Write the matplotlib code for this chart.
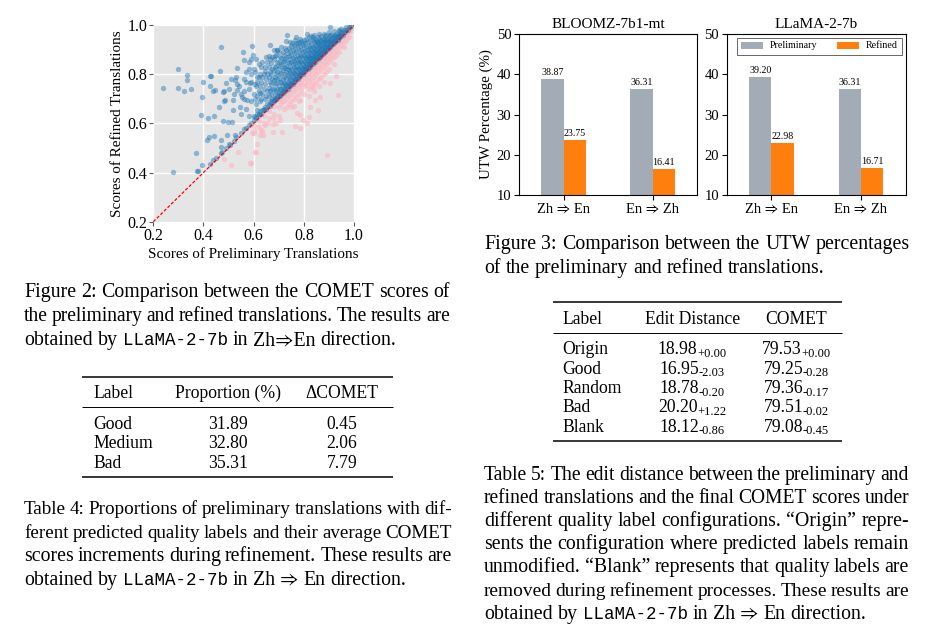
import matplotlib
matplotlib.use('Agg')
import matplotlib.pyplot as plt
import numpy as np

SERIF = ['Liberation Serif', 'STIXGeneral', 'DejaVu Serif']
MONO = ['Liberation Mono']
plt.rcParams['font.family'] = SERIF

# ---------------- data ----------------
directions = ['Zh ⇒ En', 'En ⇒ Zh']
models = ['BLOOMZ-7b1-mt', 'LLaMA-2-7b']
bloomz_prelim = [38.87, 36.31]
bloomz_refined = [23.75, 16.41]
llama_prelim = [39.20, 36.31]
llama_refined = [22.98, 16.71]

t4_header = ['Label', 'Proportion (%)', 'ΔCOMET']
t4_labels = ['Good', 'Medium', 'Bad']
t4_prop = ['31.89', '32.80', '35.31']
t4_dcomet = ['0.45', '2.06', '7.79']

t5_header = ['Label', 'Edit Distance', 'COMET']
t5_labels = ['Origin', 'Good', 'Random', 'Bad', 'Blank']
t5_edit = ['18.98', '16.95', '18.78', '20.20', '18.12']
t5_edit_delta = ['+0.00', '-2.03', '-0.20', '+1.22', '-0.86']
t5_comet = ['79.53', '79.25', '79.36', '79.51', '79.08']
t5_comet_delta = ['+0.00', '-0.28', '-0.17', '-0.02', '-0.45']

# scatter: (preliminary score, refined score)
blue_pts = [
    (0.237, 0.742), (0.297, 0.820), (0.297, 0.742), (0.333, 0.797), (0.336, 0.776), (0.324, 0.732), (0.349, 0.738),
    (0.280, 0.401), (0.370, 0.478), (0.375, 0.407), (0.393, 0.431), (0.377, 0.408), (0.399, 0.770), (0.393, 0.708),
    (0.389, 0.634), (0.419, 0.620), (0.426, 0.793), (0.470, 0.912), (0.446, 0.736), (0.413, 0.532), (0.421, 0.546),
    (0.442, 0.548), (0.466, 0.813), (0.490, 0.765), (0.483, 0.733), (0.463, 0.665), (0.483, 0.692), (0.479, 0.609),
    (0.499, 0.607), (0.439, 0.451), (0.426, 0.435), (0.559, 0.892), (0.592, 0.916), (0.599, 0.878), (0.562, 0.858),
    (0.532, 0.824), (0.526, 0.776), (0.532, 0.736), (0.516, 0.695), (0.519, 0.654), (0.512, 0.607), (0.535, 0.762),
    (0.545, 0.668), (0.552, 0.708), (0.572, 0.695), (0.585, 0.763), (0.612, 0.790), (0.625, 0.722), (0.612, 0.654),
    (0.645, 0.814), (0.665, 0.919), (0.692, 0.898), (0.732, 0.959), (0.751, 0.925), (0.778, 0.925), (0.798, 0.925),
    (0.811, 0.963), (0.838, 0.953), (0.904, 0.991), (0.942, 0.980), (0.851, 0.932), (0.469, 0.532), (0.469, 0.505),
    (0.473, 0.485), (0.506, 0.512), (0.495, 0.553), (0.525, 0.553), (0.440, 0.630), (0.429, 0.794), (0.426, 0.752),
    (0.439, 0.732), (0.479, 0.729), (0.485, 0.697), (0.500, 0.740), (0.510, 0.780), (0.520, 0.720), (0.530, 0.790),
    (0.540, 0.750), (0.550, 0.640), (0.560, 0.730), (0.570, 0.770), (0.580, 0.820), (0.590, 0.860),
    (0.55, 0.72), (0.56, 0.78), (0.57, 0.66), (0.57, 0.81), (0.58, 0.74), (0.58, 0.85), (0.59, 0.69), (0.59, 0.77),
    (0.60, 0.63), (0.60, 0.82), (0.60, 0.72), (0.61, 0.75), (0.61, 0.86), (0.61, 0.68), (0.62, 0.79), (0.62, 0.64),
    (0.62, 0.73), (0.63, 0.83), (0.63, 0.70), (0.63, 0.77), (0.64, 0.66), (0.64, 0.80), (0.64, 0.74), (0.65, 0.87),
    (0.65, 0.71), (0.65, 0.78), (0.58, 0.63), (0.56, 0.70), (0.59, 0.80), (0.62, 0.84),
    (0.66, 0.675), (0.66, 0.71), (0.66, 0.745), (0.66, 0.79), (0.66, 0.83), (0.66, 0.875),
    (0.67, 0.685), (0.67, 0.72), (0.67, 0.76), (0.67, 0.80), (0.67, 0.845),
    (0.68, 0.69), (0.68, 0.705), (0.68, 0.74), (0.68, 0.775), (0.68, 0.815), (0.68, 0.86), (0.68, 0.90),
    (0.69, 0.70), (0.69, 0.73), (0.69, 0.765), (0.69, 0.80), (0.69, 0.835), (0.69, 0.88),
    (0.70, 0.71), (0.70, 0.725), (0.70, 0.75), (0.70, 0.785), (0.70, 0.82), (0.70, 0.85), (0.70, 0.89),
    (0.71, 0.72), (0.71, 0.74), (0.71, 0.77), (0.71, 0.805), (0.71, 0.84), (0.71, 0.865), (0.71, 0.91),
    (0.72, 0.73), (0.72, 0.745), (0.72, 0.765), (0.72, 0.79), (0.72, 0.825), (0.72, 0.855), (0.72, 0.88),
    (0.73, 0.74), (0.73, 0.755), (0.73, 0.78), (0.73, 0.81), (0.73, 0.835), (0.73, 0.87), (0.73, 0.90), (0.73, 0.935),
    (0.74, 0.75), (0.74, 0.765), (0.74, 0.79), (0.74, 0.815), (0.74, 0.845), (0.74, 0.875), (0.74, 0.905),
    (0.75, 0.76), (0.75, 0.775), (0.75, 0.80), (0.75, 0.82), (0.75, 0.85), (0.75, 0.88), (0.75, 0.915),
    (0.76, 0.77), (0.76, 0.785), (0.76, 0.805), (0.76, 0.83), (0.76, 0.855), (0.76, 0.885), (0.76, 0.92),
    (0.77, 0.78), (0.77, 0.795), (0.77, 0.815), (0.77, 0.835), (0.77, 0.86), (0.77, 0.89), (0.77, 0.925), (0.77, 0.95),
    (0.78, 0.79), (0.78, 0.80), (0.78, 0.82), (0.78, 0.845), (0.78, 0.865), (0.78, 0.895), (0.78, 0.93),
    (0.79, 0.80), (0.79, 0.81), (0.79, 0.83), (0.79, 0.85), (0.79, 0.875), (0.79, 0.90), (0.79, 0.935),
    (0.80, 0.81), (0.80, 0.82), (0.80, 0.835), (0.80, 0.855), (0.80, 0.88), (0.80, 0.905), (0.80, 0.94),
    (0.81, 0.82), (0.81, 0.83), (0.81, 0.845), (0.81, 0.865), (0.81, 0.885), (0.81, 0.91), (0.81, 0.945),
    (0.82, 0.83), (0.82, 0.84), (0.82, 0.855), (0.82, 0.87), (0.82, 0.89), (0.82, 0.915), (0.82, 0.95),
    (0.83, 0.84), (0.83, 0.85), (0.83, 0.865), (0.83, 0.88), (0.83, 0.90), (0.83, 0.92), (0.83, 0.955),
    (0.84, 0.85), (0.84, 0.86), (0.84, 0.875), (0.84, 0.89), (0.84, 0.905), (0.84, 0.93), (0.84, 0.96),
    (0.85, 0.86), (0.85, 0.87), (0.85, 0.885), (0.85, 0.90), (0.85, 0.915), (0.85, 0.935),
    (0.86, 0.87), (0.86, 0.88), (0.86, 0.895), (0.86, 0.91), (0.86, 0.925), (0.86, 0.945), (0.86, 0.965),
    (0.87, 0.88), (0.87, 0.89), (0.87, 0.905), (0.87, 0.92), (0.87, 0.935), (0.87, 0.955),
    (0.88, 0.89), (0.88, 0.90), (0.88, 0.915), (0.88, 0.93), (0.88, 0.945), (0.88, 0.965),
    (0.89, 0.90), (0.89, 0.91), (0.89, 0.925), (0.89, 0.94), (0.89, 0.96),
    (0.90, 0.91), (0.90, 0.92), (0.90, 0.935), (0.90, 0.95), (0.90, 0.97),
    (0.91, 0.92), (0.91, 0.93), (0.91, 0.945), (0.91, 0.96),
    (0.92, 0.93), (0.92, 0.94), (0.92, 0.955), (0.92, 0.975),
    (0.93, 0.94), (0.93, 0.95), (0.93, 0.965), (0.94, 0.95), (0.94, 0.96), (0.94, 0.975),
    (0.95, 0.96), (0.95, 0.97), (0.95, 0.985), (0.96, 0.97), (0.96, 0.98), (0.97, 0.98), (0.97, 0.99),
    (0.98, 0.99), (0.99, 0.995),
    (0.605, 0.625), (0.605, 0.70), (0.605, 0.76), (0.605, 0.81), (0.615, 0.64), (0.615, 0.71), (0.615, 0.77),
    (0.625, 0.65), (0.625, 0.69), (0.625, 0.75), (0.625, 0.80), (0.635, 0.655), (0.635, 0.72), (0.635, 0.79),
    (0.635, 0.85), (0.645, 0.665), (0.645, 0.70), (0.645, 0.76), (0.645, 0.83), (0.655, 0.68), (0.655, 0.73),
    (0.655, 0.80), (0.655, 0.85), (0.665, 0.69), (0.665, 0.73), (0.665, 0.77), (0.665, 0.81), (0.665, 0.86),
    (0.675, 0.70), (0.675, 0.74), (0.675, 0.78), (0.675, 0.82), (0.675, 0.87), (0.685, 0.70), (0.685, 0.72),
    (0.685, 0.76), (0.685, 0.79), (0.685, 0.83), (0.685, 0.875), (0.695, 0.71), (0.695, 0.74), (0.695, 0.78),
    (0.695, 0.81), (0.695, 0.85), (0.695, 0.90), (0.705, 0.72), (0.705, 0.74), (0.705, 0.77), (0.705, 0.80),
    (0.705, 0.835), (0.705, 0.87), (0.715, 0.73), (0.715, 0.755), (0.715, 0.78), (0.715, 0.815), (0.715, 0.85),
    (0.715, 0.89), (0.725, 0.74), (0.725, 0.76), (0.725, 0.80), (0.725, 0.83), (0.725, 0.86), (0.725, 0.905),
    (0.735, 0.75), (0.735, 0.77), (0.735, 0.795), (0.735, 0.82), (0.735, 0.85), (0.735, 0.885), (0.745, 0.76),
    (0.745, 0.78), (0.745, 0.805), (0.745, 0.83), (0.745, 0.86), (0.745, 0.895), (0.745, 0.93), (0.755, 0.77),
    (0.755, 0.79), (0.755, 0.81), (0.755, 0.84), (0.755, 0.865), (0.755, 0.90), (0.765, 0.78), (0.765, 0.80),
    (0.765, 0.82), (0.765, 0.845), (0.765, 0.87), (0.765, 0.905), (0.765, 0.94), (0.775, 0.79), (0.775, 0.805),
    (0.775, 0.825), (0.775, 0.85), (0.775, 0.875), (0.775, 0.91), (0.785, 0.80), (0.785, 0.81), (0.785, 0.83),
    (0.785, 0.855), (0.785, 0.88), (0.785, 0.915), (0.785, 0.945), (0.795, 0.81), (0.795, 0.82), (0.795, 0.84),
    (0.795, 0.865), (0.795, 0.89), (0.795, 0.92), (0.805, 0.82), (0.805, 0.83), (0.805, 0.85), (0.805, 0.87),
    (0.805, 0.895), (0.805, 0.925), (0.815, 0.83), (0.815, 0.84), (0.815, 0.86), (0.815, 0.875), (0.815, 0.90),
    (0.815, 0.93), (0.825, 0.84), (0.825, 0.85), (0.825, 0.865), (0.825, 0.885), (0.825, 0.905), (0.825, 0.935),
    (0.835, 0.85), (0.835, 0.86), (0.835, 0.87), (0.835, 0.89), (0.835, 0.91), (0.835, 0.94), (0.845, 0.86),
    (0.845, 0.87), (0.845, 0.88), (0.845, 0.895), (0.845, 0.92), (0.845, 0.945), (0.855, 0.87), (0.855, 0.88),
    (0.855, 0.89), (0.855, 0.905), (0.855, 0.925), (0.855, 0.95), (0.865, 0.875), (0.865, 0.885), (0.865, 0.90),
    (0.865, 0.915), (0.865, 0.935), (0.875, 0.885), (0.875, 0.895), (0.875, 0.91), (0.875, 0.925), (0.875, 0.945),
    (0.885, 0.895), (0.885, 0.905), (0.885, 0.92), (0.885, 0.935), (0.885, 0.955), (0.895, 0.905), (0.895, 0.915),
    (0.895, 0.93), (0.895, 0.945), (0.905, 0.915), (0.905, 0.925), (0.905, 0.94), (0.905, 0.96), (0.915, 0.925),
    (0.915, 0.935), (0.915, 0.95), (0.925, 0.935), (0.925, 0.945), (0.925, 0.96), (0.935, 0.945), (0.935, 0.955),
    (0.945, 0.955), (0.945, 0.965),
    (0.45, 0.46), (0.47, 0.48), (0.49, 0.50), (0.50, 0.515), (0.52, 0.53), (0.53, 0.545), (0.55, 0.56),
    (0.56, 0.575), (0.57, 0.58), (0.58, 0.595), (0.59, 0.60), (0.60, 0.615), (0.61, 0.62), (0.62, 0.635),
    (0.63, 0.64), (0.64, 0.655), (0.65, 0.66), (0.665, 0.672), (0.675, 0.683), (0.685, 0.693), (0.695, 0.702),
    (0.705, 0.712), (0.715, 0.722), (0.725, 0.731), (0.735, 0.741), (0.745, 0.751), (0.755, 0.761),
    (0.765, 0.771), (0.775, 0.781), (0.785, 0.791), (0.795, 0.801), (0.805, 0.811), (0.815, 0.821),
    (0.825, 0.831), (0.835, 0.841), (0.845, 0.851), (0.855, 0.861), (0.865, 0.871), (0.875, 0.881),
    (0.885, 0.891), (0.895, 0.901), (0.905, 0.911), (0.915, 0.921), (0.925, 0.931), (0.935, 0.941),
    (0.945, 0.951), (0.955, 0.961), (0.965, 0.971), (0.975, 0.981), (0.985, 0.990),
]
pink_pts = [
    (0.891, 0.471), (0.938, 0.715), (0.928, 0.793), (0.822, 0.627), (0.712, 0.563), (0.678, 0.566),
    (0.765, 0.589), (0.785, 0.580), (0.585, 0.437), (0.605, 0.485), (0.508, 0.429), (0.482, 0.454),
    (0.592, 0.559), (0.632, 0.569), (0.658, 0.600), (0.732, 0.668), (0.751, 0.668), (0.771, 0.641),
    (0.785, 0.695), (0.825, 0.668), (0.845, 0.695), (0.858, 0.654), (0.864, 0.708), (0.904, 0.763),
    (0.838, 0.749), (0.678, 0.620), (0.705, 0.614), (0.785, 0.634), (0.798, 0.614), (0.811, 0.600),
    (0.536, 0.485), (0.608, 0.485), (0.615, 0.516), (0.588, 0.440), (0.625, 0.553), (0.636, 0.553),
    (0.628, 0.573), (0.601, 0.560), (0.645, 0.595), (0.676, 0.597), (0.689, 0.600),
    (0.60, 0.59), (0.60, 0.57), (0.62, 0.61), (0.62, 0.585), (0.64, 0.63), (0.64, 0.60), (0.66, 0.65),
    (0.66, 0.62), (0.68, 0.67), (0.68, 0.64), (0.70, 0.69), (0.70, 0.665), (0.70, 0.63), (0.72, 0.71),
    (0.72, 0.69), (0.72, 0.66), (0.74, 0.73), (0.74, 0.71), (0.74, 0.68), (0.76, 0.75), (0.76, 0.73),
    (0.76, 0.70), (0.76, 0.67), (0.78, 0.77), (0.78, 0.75), (0.78, 0.72), (0.78, 0.69), (0.80, 0.79),
    (0.80, 0.77), (0.80, 0.75), (0.80, 0.72), (0.82, 0.81), (0.82, 0.79), (0.82, 0.77), (0.82, 0.74),
    (0.82, 0.71), (0.84, 0.83), (0.84, 0.81), (0.84, 0.79), (0.84, 0.76), (0.84, 0.73), (0.86, 0.85),
    (0.86, 0.83), (0.86, 0.81), (0.86, 0.78), (0.86, 0.75), (0.88, 0.87), (0.88, 0.85), (0.88, 0.83),
    (0.88, 0.80), (0.88, 0.77), (0.90, 0.89), (0.90, 0.87), (0.90, 0.85), (0.90, 0.82), (0.92, 0.91),
    (0.92, 0.89), (0.92, 0.87), (0.92, 0.84), (0.94, 0.93), (0.94, 0.91), (0.94, 0.89), (0.96, 0.95),
    (0.96, 0.93), (0.96, 0.91), (0.98, 0.97), (0.98, 0.95),
    (0.71, 0.70), (0.71, 0.68), (0.73, 0.72), (0.73, 0.70), (0.75, 0.74), (0.75, 0.72), (0.75, 0.69),
    (0.77, 0.76), (0.77, 0.74), (0.77, 0.71), (0.79, 0.78), (0.79, 0.76), (0.79, 0.735), (0.81, 0.80),
    (0.81, 0.78), (0.81, 0.755), (0.83, 0.82), (0.83, 0.80), (0.83, 0.775), (0.83, 0.75), (0.85, 0.84),
    (0.85, 0.82), (0.85, 0.80), (0.85, 0.77), (0.87, 0.86), (0.87, 0.84), (0.87, 0.82), (0.87, 0.79),
    (0.89, 0.88), (0.89, 0.86), (0.89, 0.84), (0.89, 0.81), (0.91, 0.90), (0.91, 0.88), (0.91, 0.86),
    (0.93, 0.92), (0.93, 0.90), (0.93, 0.88), (0.95, 0.94), (0.95, 0.92), (0.97, 0.96), (0.97, 0.94),
    (0.99, 0.98),
]
blue_x = [p[0] for p in blue_pts]
blue_y = [p[1] for p in blue_pts]
pink_x = [p[0] for p in pink_pts]
pink_y = [p[1] for p in pink_pts]

GRAY = '#a3acb6'
ORANGE = '#ff7f0e'

# ---------------- figure ----------------
W, H = 936, 625
fig = plt.figure(figsize=(W / 100, H / 100), dpi=100)
fig.patch.set_facecolor('white')

ov = fig.add_axes([0, 0, 1, 1])
ov.set_xlim(0, W)
ov.set_ylim(H, 0)
ov.axis('off')

def fr(x0, y0, x1, y1):
    return [x0 / W, 1 - y1 / H, (x1 - x0) / W, (y1 - y0) / H]

# ---- scatter ----
ax = fig.add_axes(fr(153.3, 25, 354, 221.7))
ax.set_facecolor('#e5e5e5')
ax.grid(True, color='white', lw=1.0)
ax.set_axisbelow(True)
for s in ax.spines.values():
    s.set_visible(False)
ax.scatter(pink_x, pink_y, s=15, color='#ffb6c1', alpha=0.6, lw=0, zorder=2)
ax.scatter(blue_x, blue_y, s=15, color='#1f77b4', alpha=0.45, lw=0, zorder=3)
ax.plot([0.2, 1.0], [0.2, 1.0], color='red', ls=(0, (2.5, 1.5)), lw=0.9, zorder=4)
ax.set_xlim(0.2, 1.0)
ax.set_ylim(0.2, 1.0)
ticks = [0.2, 0.4, 0.6, 0.8, 1.0]
ax.set_xticks(ticks)
ax.set_yticks(ticks)
ax.tick_params(labelsize=11.5, length=3, color='0.35', pad=1.5)
ax.set_xlabel('Scores of Preliminary Translations', fontsize=10.9, labelpad=2)
ax.set_ylabel('Scores of Refined Translations', fontsize=10.9, labelpad=2)

# ---- bar charts ----
def bars(axb, prelim, refined, title):
    x = np.arange(len(directions))
    w = 0.25
    b1 = axb.bar(x - w / 2, prelim, w, color=GRAY, label='Preliminary')
    b2 = axb.bar(x + w / 2, refined, w, color=ORANGE, label='Refined')
    for bs, vals in ((b1, prelim), (b2, refined)):
        for r, v in zip(bs, vals):
            axb.annotate(f'{v:.2f}', (r.get_x() + r.get_width() / 2, v), xytext=(0, 1.5),
                         textcoords='offset points', ha='center', va='bottom', fontsize=7.2)
    axb.set_xlim(-0.5, 1.5)
    axb.set_ylim(10, 50)
    axb.set_yticks([10, 20, 30, 40, 50])
    axb.set_xticks(x)
    axb.set_xticklabels(directions)
    axb.tick_params(labelsize=10.5, length=3.5, pad=2)
    axb.set_title(title, fontsize=11.0, pad=4)

axl = fig.add_axes(fr(519, 34, 697.3, 195))
bars(axl, bloomz_prelim, bloomz_refined, models[0])
axl.set_ylabel('UTW Percentage (%)', fontsize=10.8, labelpad=3)
axr = fig.add_axes(fr(726.7, 34, 905.7, 195))
bars(axr, llama_prelim, llama_refined, models[1])
leg = axr.legend(loc='upper right', ncol=2, fontsize=7.2, handlelength=2.2, handleheight=0.7,
                 handletextpad=0.7, columnspacing=2.0, borderaxespad=0.35, fancybox=False,
                 edgecolor='0.3', framealpha=1)
leg.get_frame().set_linewidth(0.6)

# ---------------- text helpers ----------------
renderer = fig.canvas.get_renderer()
PX = 100 / 72.0

def twidth(t):
    return t.get_window_extent(renderer).width

def para(lines, x0, x1, y0, dy, fs=14.3):
    for i, line in enumerate(lines):
        y = y0 + i * dy
        toks = line.split(' ')
        last = (i == len(lines) - 1)

        def build(f):
            out = []
            for tok in toks:
                if tok.startswith('`'):
                    a = ov.text(0, y, tok.strip('`'), fontsize=f * 0.885, family=MONO, va='baseline', ha='left')
                else:
                    a = ov.text(0, y, tok, fontsize=f, family=SERIF, va='baseline', ha='left')
                out.append(a)
            return out

        f = fs
        arts = build(f)
        ws = [twidth(a) for a in arts]
        n = len(arts)
        if not last:
            mingap = 0.19 * f * PX
            if sum(ws) + (n - 1) * mingap > (x1 - x0):
                scale = ((x1 - x0) - (n - 1) * mingap) / sum(ws)
                for a in arts:
                    a.remove()
                f = fs * scale
                arts = build(f)
                ws = [twidth(a) for a in arts]
            gap = (x1 - x0 - sum(ws)) / (n - 1)
        else:
            gap = 0.25 * f * PX
        x = x0
        for a, wdt in zip(arts, ws):
            a.set_x(x)
            x += wdt + gap

def rule(x0, x1, y, lw):
    ov.plot([x0, x1], [y, y], color='black', lw=lw, solid_capstyle='butt')

# ---- Figure 2 caption ----
para(['Figure 2: Comparison between the COMET scores of',
      'the preliminary and refined translations. The results are',
      'obtained by `LLaMA-2-7b` in Zh⇒En direction.'],
     24, 450, 297.3, 23.9)

# ---- Table 4 ----
TFS = 12.7
rule(82, 393, 376.7, 1.1)
rule(82, 393, 406.7, 0.7)
rule(82, 393, 476.7, 1.1)
ov.text(93, 397.5, t4_header[0], fontsize=TFS, ha='left', va='baseline')
ov.text(228, 397.5, t4_header[1], fontsize=TFS, ha='center', va='baseline')
ov.text(342, 397.5, t4_header[2], fontsize=TFS, ha='center', va='baseline')
for i in range(len(t4_labels)):
    y = 428.8 + 19.5 * i
    ov.text(93, y, t4_labels[i], fontsize=TFS, ha='left', va='baseline')
    ov.text(228, y, t4_prop[i], fontsize=TFS, ha='center', va='baseline')
    ov.text(342, y, t4_dcomet[i], fontsize=TFS, ha='center', va='baseline')

para(['Table 4: Proportions of preliminary translations with dif-',
      'ferent predicted quality labels and their average COMET',
      'scores increments during refinement. These results are',
      'obtained by `LLaMA-2-7b` in Zh ⇒ En direction.'],
     24, 452, 514.5, 23.4)

# ---- Figure 3 caption ----
para(['Figure 3: Comparison between the UTW percentages',
      'of the preliminary and refined translations.'],
     484, 910, 249.3, 23.4)

# ---- Table 5 ----
rule(553, 842, 302.3, 1.1)
rule(553, 842, 333.3, 0.7)
rule(553, 842, 441.0, 1.1)
ov.text(562.7, 324.3, t5_header[0], fontsize=TFS, ha='left', va='baseline')
ov.text(692.7, 324.3, t5_header[1], fontsize=TFS, ha='center', va='baseline')
ov.text(796.4, 324.3, t5_header[2], fontsize=TFS, ha='center', va='baseline')

def subval(xc, y, main, sub):
    a = ov.text(0, y, main, fontsize=TFS, ha='left', va='baseline')
    b = ov.text(0, y + 2.6, sub, fontsize=9.0, ha='left', va='baseline')
    w1, w2 = twidth(a), twidth(b)
    x0 = xc - (w1 + w2) / 2
    a.set_x(x0)
    b.set_x(x0 + w1 - 0.5)

for i in range(len(t5_labels)):
    y = 354.3 + 19.4 * i
    ov.text(562.7, y, t5_labels[i], fontsize=TFS, ha='left', va='baseline')
    subval(692.3, y, t5_edit[i], t5_edit_delta[i])
    subval(796.5, y, t5_comet[i], t5_comet_delta[i])

para(['Table 5: The edit distance between the preliminary and',
      'refined translations and the final COMET scores under',
      'different quality label configurations. “Origin” repre-',
      'sents the configuration where predicted labels remain',
      'unmodified. “Blank” represents that quality labels are',
      'removed during refinement processes. These results are',
      'obtained by `LLaMA-2-7b` in Zh ⇒ En direction.'],
     484, 909, 479.6, 23.2)

fig.savefig('out.png', dpi=100, facecolor='white')
